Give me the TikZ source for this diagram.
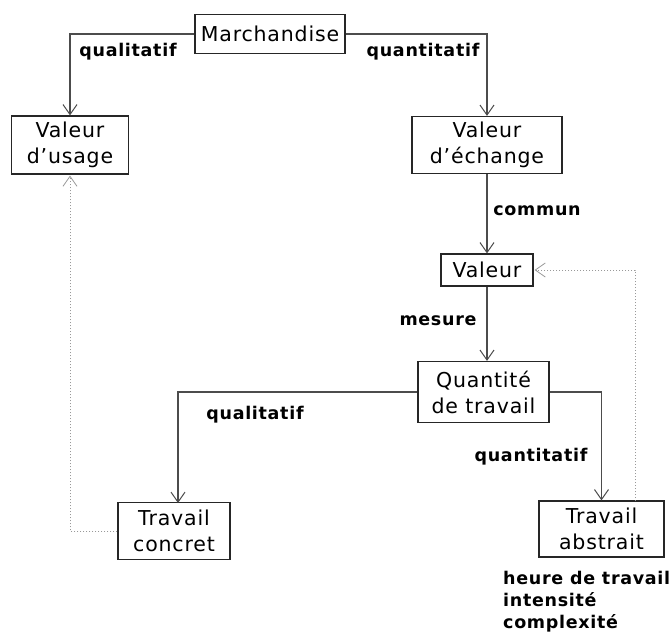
\documentclass[tikz,border=0pt]{standalone}
\usepackage{fontspec}
\setmainfont{DejaVu Sans}
\newfontfamily\labfont[LetterSpace=4]{DejaVu Sans Bold}
\newfontfamily\boxfont[LetterSpace=4]{DejaVu Sans}
\usetikzlibrary{arrows.meta}
\begin{document}
\begin{tikzpicture}[x=1pt,y=-1pt,
  box/.style={draw=black!85,line width=1.2pt,inner sep=0pt,align=center,
    font=\boxfont\fontsize{20.5}{26}\selectfont},
  lab/.style={font=\labfont\fontsize{17.5}{22}\selectfont,inner sep=0pt},
  arr/.style={draw=black!70,line width=1.2pt,-{Straight Barb[length=10pt,width=14pt,line width=1pt]}},
  dot/.style={draw=black!40,line width=1pt,dotted,-{Straight Barb[length=10pt,width=14pt,line width=0.8pt,sep=1pt]}}]
\useasboundingbox (0,0) rectangle (672,632);
\node[box,minimum width=150pt,minimum height=39pt] (m) at (270,34) {Marchandise};
\node[box,minimum width=117pt,minimum height=58pt] (vu) at (70,145) {Valeur\\d’usage};
\node[box,minimum width=150pt,minimum height=57pt] (ve) at (487,145) {Valeur\\d’échange};
\node[box,minimum width=92pt,minimum height=32pt] (v) at (487,270) {Valeur};
\node[box,minimum width=131pt,minimum height=61pt] (q) at (483.5,392) {Quantité\\de travail};
\node[box,minimum width=125pt,minimum height=56pt] (ta) at (601.5,529) {Travail\\abstrait};
\node[box,minimum width=112pt,minimum height=57pt] (tc) at (174,531) {Travail\\concret};
\coordinate (tcin) at (178,503);
\coordinate (taout) at (635,501);
\draw[arr] (m.west) -| (vu.north);
\draw[arr] (m.east) -| (ve.north);
\draw[arr] (ve.south) -- (ve.south |- v.north);
\draw[arr] (v.south) -- (v.south |- q.north);
\draw[arr] (q.west) -| (tcin);
\draw[arr] (q.east) -| (ta.north);
\draw[dot] (taout) |- (v.east);
\draw[dot] (tc.west) -| (vu.south);
\node[lab] (l1) at (128,52) {qualitatif};
\node[lab] (l2) at (423,52) {quantitatif};
\node[lab] (l3) at (537,211) {commun};
\node[lab] (l4) at (438,321) {mesure};
\node[lab] (l5) at (255,415) {qualitatif};
\node[lab] (l6) at (531,457) {quantitatif};
\node[lab,align=left,anchor=north west] (l7) at (503,571) {heure de travail\\intensité\\complexité};
\end{tikzpicture}
\end{document}
